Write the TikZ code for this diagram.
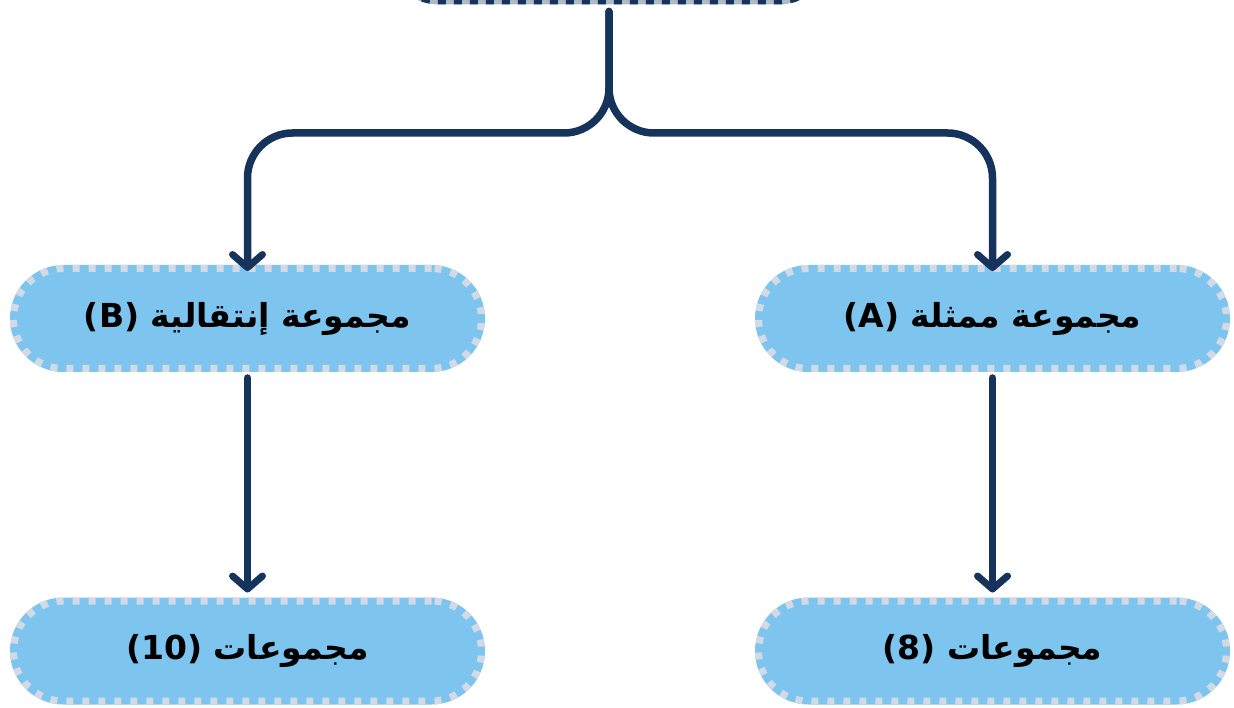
\documentclass[tikz,border=0pt]{standalone}
\usepackage{fontspec}
\usetikzlibrary{arrows.meta}
\TeXXeTstate=1
\newfontfamily\arabicfont[Script=Arabic]{DejaVu Sans}
\definecolor{navy}{HTML}{15335B}
\definecolor{boxfill}{HTML}{7DC5EE}
\definecolor{boxdash}{HTML}{D3DAE6}
\definecolor{topfill}{HTML}{AEBAC6}
\tikzset{
  pill/.style={draw=boxfill, fill=boxfill, line width=7pt,
    postaction={draw=boxdash, dash pattern=on 7pt off 9pt},
    rounded corners=50pt, minimum width=468pt, minimum height=100pt,
    font=\arabicfont\bfseries\fontsize{33}{38}\selectfont, text=black},
  toppill/.style={draw=topfill, fill=topfill, line width=7pt,
    postaction={draw=navy, dash pattern=on 8pt off 8pt},
    rounded corners=50pt, minimum width=440pt, minimum height=100pt},
  conn/.style={draw=navy, line width=7.5pt, line cap=round, rounded corners=45pt,
    -{Straight Barb[length=13pt,width=30pt,line width=7pt,round]}},
}
\begin{document}
\begin{tikzpicture}[x=1pt,y=-1pt]
\useasboundingbox (0,0) rectangle (1234,708);
\clip (0,0) rectangle (1234,708);
\node[toppill] (top) at (609,-49) {};
\node[pill] (A) at (992.5,318.5) {\beginR مجموعة ممثلة \beginL(A)\endL\endR};
\node[pill] (B) at (247.5,318.5) {\beginR مجموعة إنتقالية \beginL(B)\endL\endR};
\node[pill] (A8) at (992.5,651) {\beginR مجموعات \beginL(8)\endL\endR};
\node[pill] (B10) at (247.5,651) {\beginR مجموعات \beginL(10)\endL\endR};
\coordinate (j) at (609,133);
\draw[conn] ([yshift=-7pt]top.south) -- (j) -| ([yshift=-6pt]B.north);
\draw[conn] ([yshift=-7pt]top.south) -- (j) -| ([yshift=-6pt]A.north);
\draw[conn] ([yshift=-6pt]B.south) -- ([yshift=5pt]B10.north);
\draw[conn] ([yshift=-6pt]A.south) -- ([yshift=5pt]A8.north);
\end{tikzpicture}
\end{document}
